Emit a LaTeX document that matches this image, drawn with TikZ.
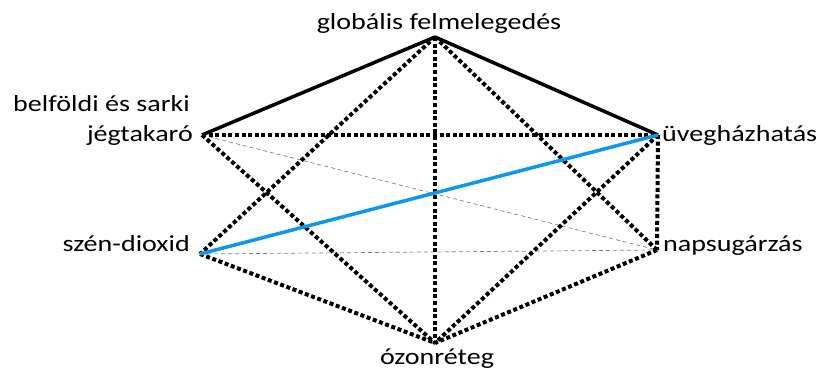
\documentclass[tikz,border=0pt]{standalone}
\usepackage{fontspec}
\setmainfont[FakeStretch=1.22]{Carlito}
\usetikzlibrary{positioning}
\definecolor{linkblue}{HTML}{0A98F0}
\definecolor{weakgray}{HTML}{808080}

\begin{document}
\begin{tikzpicture}[x=1pt,y=-1pt,
  pt/.style={coordinate},
  lbl/.style={font=\fontsize{23}{26}\selectfont,inner sep=0pt},
  strong/.style={line width=3.5pt},
  weak/.style={weakgray,line width=0.7pt,dash pattern=on 4pt off 3pt},
  maybe/.style={line width=4pt,dash pattern=on 4pt off 2.6pt},
  co2link/.style={linkblue,line width=3.5pt}]
  \useasboundingbox (0,0) rectangle (823,374);
  % concepts
  \node[pt] (glob) at (435,37) {};
  \node[pt] (jeg)  at (202,135) {};
  \node[pt] (uveg) at (658,135) {};
  \node[pt] (szen) at (200,254) {};
  \node[pt] (nap)  at (657,250) {};
  \node[pt] (ozon) at (435,343) {};
  % labels
  \node[lbl,above=3pt of glob,xshift=4pt] (globl) {globális felmelegedés};
  \node[lbl,left=9pt of jeg] (jegl) {jégtakaró};
  \node[lbl,above=13pt of jegl.north east,anchor=south east,xshift=-3pt] (belfl) {belföldi és sarki};
  \node[lbl,right=4pt of uveg] (uvegl) {üvegházhatás};
  \node[lbl,right=6pt of nap,yshift=4pt] (napl) {napsugárzás};
  \node[lbl,left=10pt of szen,yshift=10pt] (szenl) {szén-dioxid};
  \node[lbl,below=6pt of ozon,xshift=2pt] (ozonl) {ózonréteg};
  % links
  \foreach \a/\b in {jeg/nap,szen/nap} \draw[weak] (\a) -- (\b);
  \foreach \a/\b in {glob/ozon,glob/szen,glob/nap,jeg/uveg,jeg/ozon,uveg/nap,uveg/ozon,szen/ozon,nap/ozon}
    \draw[maybe] (\a) -- (\b);
  \foreach \a/\b in {glob/jeg,glob/uveg} \draw[strong] (\a) -- (\b);
  \draw[co2link] (szen) -- (uveg);
\end{tikzpicture}
\end{document}
